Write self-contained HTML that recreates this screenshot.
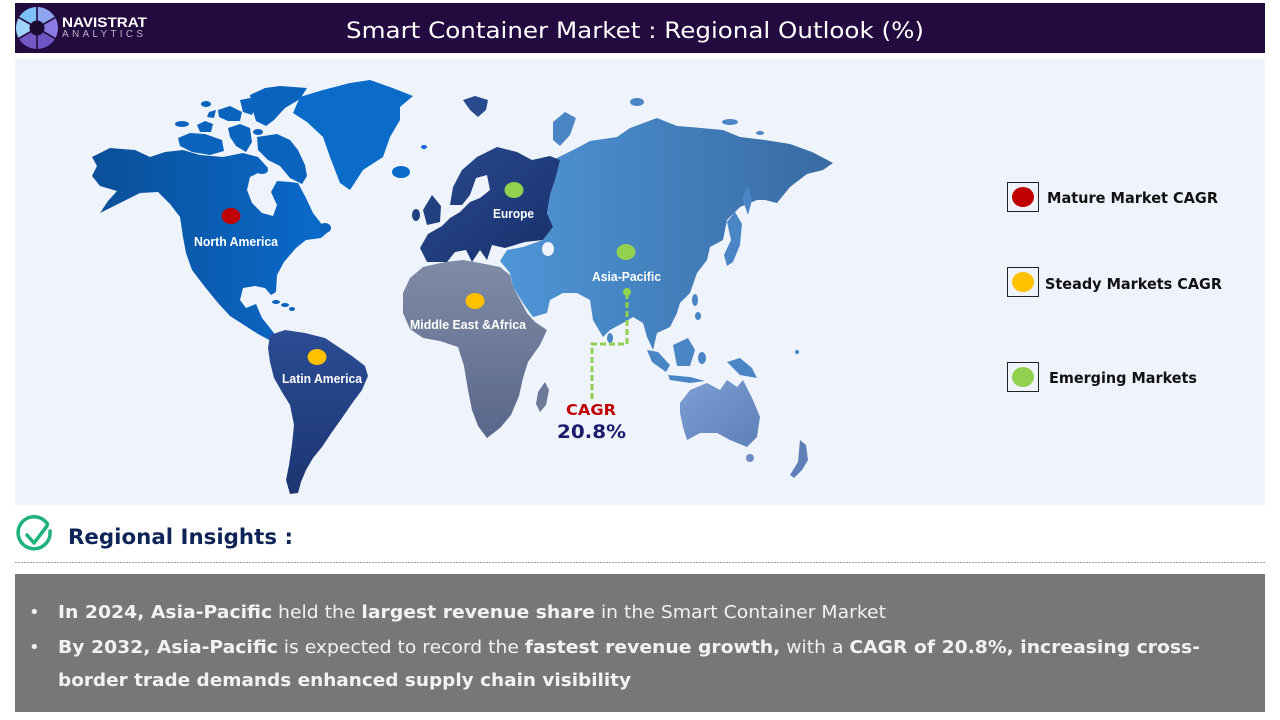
<!DOCTYPE html>
<html><head><meta charset="utf-8"><style>
html,body{margin:0;padding:0;background:#fff;}
svg{display:block;}
text{font-family:"DejaVu Sans","Liberation Sans",sans-serif;}
.lbl{font-family:"Liberation Sans",sans-serif;font-weight:bold;font-size:12.5px;fill:#fff;}
</style></head><body>
<svg width="1280" height="720" viewBox="0 0 1280 720" xmlns="http://www.w3.org/2000/svg">
<defs>
<linearGradient id="gNA" x1="0" y1="0" x2="1" y2="0"><stop offset="0" stop-color="#0b4f98"/><stop offset="1" stop-color="#0a6acb"/></linearGradient>
<linearGradient id="gSA" x1="0" y1="0" x2="0" y2="1"><stop offset="0" stop-color="#2b4c94"/><stop offset="1" stop-color="#1b3570"/></linearGradient>
<linearGradient id="gEU" x1="0" y1="0" x2="1" y2="1"><stop offset="0" stop-color="#2a4a8f"/><stop offset="1" stop-color="#17306a"/></linearGradient>
<linearGradient id="gAS" x1="0" y1="0" x2="1" y2="0"><stop offset="0" stop-color="#4f96d8"/><stop offset="1" stop-color="#386aa2"/></linearGradient>
<linearGradient id="gAF" x1="0" y1="0" x2="0" y2="1"><stop offset="0" stop-color="#808ca6"/><stop offset="1" stop-color="#58668a"/></linearGradient>
<linearGradient id="gAU" x1="0" y1="0" x2="1" y2="1"><stop offset="0" stop-color="#7d9ed4"/><stop offset="1" stop-color="#5f7fb8"/></linearGradient>
</defs>

<!-- header -->
<rect x="15" y="3" width="1250" height="50" fill="#230a3f"/>
<g transform="translate(37,28)">
  <path d="M0,0 L0,-21 A21,21 0 0 1 18.19,-10.5 Z" fill="#8ea6f2"/>
  <path d="M0,0 L18.19,-10.5 A21,21 0 0 1 18.19,10.5 Z" fill="#8a7ce4"/>
  <path d="M0,0 L18.19,10.5 A21,21 0 0 1 0,21 Z" fill="#6d55c6"/>
  <path d="M0,0 L0,21 A21,21 0 0 1 -18.19,10.5 Z" fill="#7458c4"/>
  <path d="M0,0 L-18.19,10.5 A21,21 0 0 1 -18.19,-10.5 Z" fill="#9fd3fa"/>
  <path d="M0,0 L-18.19,-10.5 A21,21 0 0 1 0,-21 Z" fill="#7dc2f6"/>
  <g stroke="#230a3f" stroke-width="1.6">
    <line x1="0" y1="0" x2="0" y2="-21"/><line x1="0" y1="0" x2="18.19" y2="-10.5"/><line x1="0" y1="0" x2="18.19" y2="10.5"/>
    <line x1="0" y1="0" x2="0" y2="21"/><line x1="0" y1="0" x2="-18.19" y2="10.5"/><line x1="0" y1="0" x2="-18.19" y2="-10.5"/>
  </g>
  <circle r="7.5" fill="#1c0a33"/>
</g>
<text x="62" y="27" font-size="14" font-weight="bold" fill="#fff" textLength="85" lengthAdjust="spacingAndGlyphs" style="font-family:'Liberation Sans',sans-serif">NAVISTRAT</text>
<text x="62" y="37" font-size="10" fill="#b9b2c9" textLength="81" lengthAdjust="spacing" style="font-family:'Liberation Sans',sans-serif">ANALYTICS</text>
<text x="346" y="38" font-size="22" fill="#fff" textLength="578" lengthAdjust="spacingAndGlyphs">Smart Container Market : Regional Outlook (%)</text>

<!-- map panel -->
<rect x="15" y="59" width="1250" height="446" fill="#eff4fc"/>

<!-- North America -->
<path fill="url(#gNA)" d="M92,157 L110,148 L135,150 L150,157 L165,152 L183,150 L200,155 L223,157 L243,153 L258,157 L268,168 L250,177 L247,190 L252,203 L262,213 L273,216 L277,205 L271,192 L277,181 L290,182 L298,183 L306,198 L313,213 L320,222 L328,232 L321,238 L306,240 L296,248 L284,262 L277,275 L276,292 L271,295 L265,288 L255,286 L243,288 L240,300 L246,308 L256,304 L262,318 L270,328 L277,337 L271,341 L258,334 L244,325 L230,316 L218,303 L205,287 L192,270 L186,253 L183,237 L180,217 L170,204 L158,192 L140,193 L122,202 L100,213 L108,201 L117,191 L100,186 L92,176 L97,166 Z"/>
<!-- arctic islands -->
<g fill="#0a64bd">
<path d="M257,137 L277,134 L290,140 L298,150 L305,165 L307,176 L302,184 L290,178 L280,166 L268,160 L258,150 Z"/>
<path d="M250,95 L265,88 L280,86 L307,88 L300,99 L285,108 L274,120 L266,126 L256,121 L252,108 Z"/>
<path d="M178,138 L190,133 L205,134 L222,140 L224,151 L210,155 L192,152 L180,146 Z"/>
<path d="M197,125 L205,121 L213,124 L211,132 L200,132 Z"/>
<path d="M218,110 L230,106 L242,112 L240,121 L228,121 L219,117 Z"/>
<path d="M240,100 L250,98 L256,106 L252,115 L243,112 Z"/>
<path d="M228,128 L240,124 L250,128 L252,142 L246,152 L236,146 L230,137 Z"/>
<path d="M209,112 L216,110 L214,118 L207,117 Z"/>
<ellipse cx="182" cy="124" rx="7" ry="3"/>
<ellipse cx="206" cy="104" rx="5" ry="3"/>
<ellipse cx="258" cy="132" rx="5" ry="3"/>
<ellipse cx="262" cy="170" rx="6" ry="4"/>
<ellipse cx="325" cy="228" rx="6" ry="5"/>
<ellipse cx="276" cy="302" rx="4" ry="2"/>
<ellipse cx="285" cy="305" rx="4" ry="2"/>
<ellipse cx="292" cy="309" rx="3" ry="2"/>
</g>
<!-- Greenland -->
<path fill="#0a6cc8" d="M293,113 L300,97 L323,90 L350,83 L370,80 L390,87 L413,96 L400,107 L400,120 L390,137 L383,157 L363,170 L350,190 L340,183 L330,157 L323,137 L307,122 Z"/>
<ellipse cx="401" cy="172" rx="9" ry="6" fill="#0a6cc8"/>
<ellipse cx="424" cy="147" rx="3" ry="2" fill="#0a6cc8"/>

<!-- South America -->
<path fill="url(#gSA)" d="M270,335 L285,330 L305,333 L325,338 L337,346 L352,356 L365,366 L368,376 L362,390 L353,402 L342,418 L332,432 L322,447 L313,458 L306,470 L301,482 L298,493 L290,494 L286,480 L289,465 L292,445 L294,425 L290,405 L282,392 L274,378 L270,362 L268,348 Z"/>

<!-- Africa -->
<path fill="url(#gAF)" d="M403,293 L410,278 L423,267 L445,262 L463,260 L480,263 L500,267 L510,275 L513,287 L520,300 L527,313 L535,322 L547,330 L540,345 L528,362 L523,378 L519,396 L511,415 L500,428 L487,438 L478,426 L472,410 L468,390 L464,366 L458,347 L440,341 L423,338 L410,329 L403,313 Z"/>
<path fill="#6c7a98" d="M538,392 L545,382 L549,390 L546,405 L540,412 L536,404 Z"/>

<!-- Asia -->
<path fill="url(#gAS)" d="M553,160 L577,148 L590,141 L617,137 L630,128 L657,118 L677,126 L690,127 L723,130 L740,137 L765,140 L790,144 L812,152 L833,163 L823,170 L807,174 L790,187 L777,203 L765,200 L757,200 L740,207 L727,220 L723,240 L710,247 L707,260 L697,273 L690,293 L680,303 L677,313 L670,327 L657,333 L653,350 L647,337 L643,323 L633,317 L623,323 L610,330 L603,337 L593,320 L590,300 L577,293 L563,293 L550,300 L547,313 L533,317 L523,303 L513,287 L510,273 L500,261 L507,250 L523,247 L543,240 L553,227 L547,213 L550,195 L555,180 Z"/>
<ellipse cx="548" cy="249" rx="6" ry="7" fill="#eff4fc"/>
<g fill="#4a86c6">
<path d="M553,122 L565,112 L576,118 L570,135 L560,146 L553,140 Z"/>
<ellipse cx="637" cy="102" rx="7" ry="4"/>
<ellipse cx="730" cy="122" rx="8" ry="3"/>
<ellipse cx="760" cy="133" rx="4" ry="2"/>
<path d="M727,222 L735,212 L742,224 L740,245 L733,262 L727,266 L724,255 L731,240 Z"/>
<path d="M742,198 L748,186 L752,200 L748,215 Z"/>
<ellipse cx="610" cy="338" rx="3" ry="5"/>
<ellipse cx="695" cy="300" rx="3" ry="6"/>
<ellipse cx="698" cy="316" rx="3" ry="4"/>
<path d="M647,350 L658,352 L670,365 L666,372 L652,362 Z"/>
<path d="M673,345 L688,338 L695,350 L690,366 L677,366 Z"/>
<path d="M668,375 L690,377 L705,381 L690,383 L670,380 Z"/>
<path d="M727,362 L740,358 L752,368 L757,378 L740,375 Z"/>
<ellipse cx="702" cy="358" rx="4" ry="6"/>
<ellipse cx="797" cy="352" rx="2" ry="2"/>
</g>
<g fill="#2a4a8f">
<path d="M463,100 L475,96 L488,100 L486,110 L478,117 L470,110 Z"/>
</g>

<!-- Europe -->
<path fill="url(#gEU)" d="M450,205 L453,187 L462,170 L477,157 L497,147 L517,152 L532,160 L550,156 L560,160 L555,180 L550,195 L547,213 L553,227 L543,240 L525,242 L505,248 L492,245 L487,260 L480,250 L472,262 L466,250 L455,252 L447,262 L427,262 L420,248 L428,234 L442,226 L450,218 L460,212 L470,202 L480,198 L490,190 L487,175 L476,178 L470,195 L462,205 Z"/>
<path fill="#21407f" d="M423,210 L432,195 L441,206 L440,222 L427,225 Z"/>
<ellipse cx="416" cy="215" rx="4" ry="6" fill="#21407f"/>

<!-- Australia -->
<path fill="url(#gAU)" d="M680,403 L690,390 L707,383 L720,390 L727,380 L737,387 L743,380 L753,400 L760,417 L757,437 L747,447 L730,440 L717,433 L700,433 L687,440 L683,427 L680,413 Z"/>
<ellipse cx="750" cy="458" rx="4" ry="4" fill="#6f8cc2"/>
<path fill="#5f7fb8" d="M800,440 L806,445 L808,460 L802,470 L794,478 L790,475 L798,462 Z"/>

<!-- dashed connector -->
<path d="M627,293 L627,344 L592,344 L592,400" fill="none" stroke="#92d050" stroke-width="3" stroke-dasharray="6,3"/>
<circle cx="627" cy="292" r="4" fill="#92d050"/>

<!-- dots -->
<ellipse cx="231" cy="216" rx="9.5" ry="8" fill="#c00000"/>
<ellipse cx="514" cy="190" rx="9.5" ry="8" fill="#92d050"/>
<ellipse cx="626" cy="252" rx="9.5" ry="8" fill="#92d050"/>
<ellipse cx="475" cy="301" rx="9.5" ry="8" fill="#ffc000"/>
<ellipse cx="317" cy="357" rx="9.5" ry="8" fill="#ffc000"/>

<!-- map labels -->
<text class="lbl" x="194" y="246" textLength="84" lengthAdjust="spacingAndGlyphs">North America</text>
<text class="lbl" x="493" y="218" textLength="41" lengthAdjust="spacingAndGlyphs">Europe</text>
<text class="lbl" x="592" y="281" textLength="69" lengthAdjust="spacingAndGlyphs">Asia-Pacific</text>
<text class="lbl" x="410" y="329" textLength="116" lengthAdjust="spacingAndGlyphs">Middle East &amp;Africa</text>
<text class="lbl" x="282" y="383" textLength="80" lengthAdjust="spacingAndGlyphs">Latin America</text>
<text x="566" y="415" font-size="15" font-weight="bold" fill="#c00000" textLength="50" lengthAdjust="spacingAndGlyphs">CAGR</text>
<text x="557" y="438" font-size="19" font-weight="bold" fill="#1c1a6c" textLength="69" lengthAdjust="spacingAndGlyphs">20.8%</text>

<!-- legend -->
<rect x="1007.5" y="182.5" width="31" height="29" fill="none" stroke="#222" stroke-width="1"/>
<ellipse cx="1023" cy="197" rx="11" ry="10" fill="#c00000"/>
<text x="1047" y="203" font-size="15" font-weight="bold" fill="#111" textLength="171" lengthAdjust="spacingAndGlyphs">Mature Market CAGR</text>
<rect x="1007.5" y="267.5" width="31" height="29" fill="none" stroke="#222" stroke-width="1"/>
<ellipse cx="1023" cy="282" rx="11" ry="10" fill="#ffc000"/>
<text x="1045" y="289" font-size="15" font-weight="bold" fill="#111" textLength="177" lengthAdjust="spacingAndGlyphs">Steady Markets CAGR</text>
<rect x="1007.5" y="362.5" width="31" height="29" fill="none" stroke="#222" stroke-width="1"/>
<ellipse cx="1023" cy="377" rx="11" ry="10" fill="#92d050"/>
<text x="1049" y="383" font-size="15" font-weight="bold" fill="#111" textLength="148" lengthAdjust="spacingAndGlyphs">Emerging Markets</text>

<!-- Regional insights -->
<path d="M47.5,524 A16,16 0 1 0 50,531" fill="none" stroke="#1fb27a" stroke-width="3.5" stroke-linecap="round"/>
<path d="M27,535 L34,543 L47,526" fill="none" stroke="#1fb27a" stroke-width="3.5" stroke-linecap="round" stroke-linejoin="round"/>
<text x="68" y="544" font-size="21" font-weight="bold" fill="#0f2557" textLength="225" lengthAdjust="spacingAndGlyphs">Regional Insights :</text>
<line x1="15" y1="562.5" x2="1265" y2="562.5" stroke="#a0a0a0" stroke-width="1" stroke-dasharray="2,1"/>

<!-- gray box -->
<rect x="15" y="574" width="1250" height="138" fill="#777777"/>
<g fill="#f2f2f2" font-size="18">
<text x="29" y="618">•</text>
<text x="29" y="653">•</text>
<text x="58" y="618" textLength="828" lengthAdjust="spacingAndGlyphs"><tspan font-weight="bold">In 2024, Asia-Pacific</tspan> held the <tspan font-weight="bold">largest revenue share</tspan> in the Smart Container Market</text>
<text x="58" y="653" textLength="1142" lengthAdjust="spacingAndGlyphs"><tspan font-weight="bold">By 2032, Asia-Pacific</tspan> is expected to record the <tspan font-weight="bold">fastest revenue growth,</tspan> with a <tspan font-weight="bold">CAGR of 20.8%, increasing cross-</tspan></text>
<text x="58" y="686" font-weight="bold" textLength="573" lengthAdjust="spacingAndGlyphs">border trade demands enhanced supply chain visibility</text>
</g>
</svg>
</body></html>
